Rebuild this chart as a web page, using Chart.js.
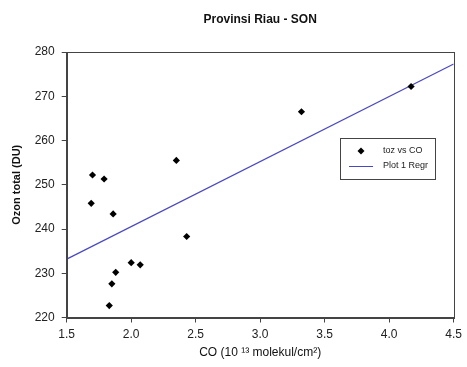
<!DOCTYPE html>
<html>
<head>
<meta charset="utf-8">
<script src="https://cdn.jsdelivr.net/npm/chart.js@4"></script>
<style>
html,body{margin:0;padding:0;background:#fff;}
#wrap{width:467px;height:367px;}
</style>
</head>
<body>
<div id="wrap"><canvas id="c" width="467" height="367"></canvas></div>
<script>
const chartTitle = "Provinsi Riau - SON";
const xTitle = "CO (10 \u00B9\u00B3 molekul/cm\u00B2)";
const yTitle = "Ozon total (DU)";
const scatterLabel = "toz vs CO";
const regrLabel = "Plot 1 Regr";
const coValues = [1.70, 1.79, 1.69, 1.86, 2.35, 2.43, 2.00, 2.07, 1.88, 1.85, 1.83, 3.32, 4.17];
const ozonValues = [252.2, 251.3, 245.8, 243.4, 255.5, 238.3, 232.4, 231.9, 230.2, 227.6, 222.7, 266.5, 272.2];
const regrX = [1.5, 4.5];
const regrY = [233.2, 277.3];
const xTicks = [1.5, 2.0, 2.5, 3.0, 3.5, 4.0, 4.5];
const yTicks = [220, 230, 240, 250, 260, 270, 280];

const FONT = "'Liberation Sans', Arial, sans-serif";
const AXIS = '#444';

const framePlugin = {
  id: 'frame',
  afterDraw(chart) {
    const {ctx, chartArea: a} = chart;
    ctx.save();
    ctx.strokeStyle = AXIS;
    ctx.lineWidth = 1;
    ctx.strokeRect(Math.round(a.left) + 0.5, Math.round(a.top) + 0.5, Math.round(a.right - a.left), Math.round(a.bottom - a.top));
    ctx.fillStyle = '#111';
    ctx.font = "bold 12px " + FONT;
    ctx.textAlign = 'center';
    ctx.textBaseline = 'middle';
    ctx.fillText(chartTitle, (a.left + a.right) / 2, 20);
    const lx = 340, ly = 138, lw = 95, lh = 41;
    ctx.fillStyle = '#fff';
    ctx.fillRect(lx, ly, lw, lh);
    ctx.strokeStyle = AXIS;
    ctx.strokeRect(lx + 0.5, ly + 0.5, lw, lh);
    ctx.font = "9px " + FONT;
    ctx.textAlign = 'left';
    const d0 = chart.data.datasets[0], d1 = chart.data.datasets[1];
    ctx.fillStyle = '#000';
    ctx.beginPath();
    const cx = lx + 21, cy = ly + 13;
    ctx.moveTo(cx, cy - 3.5); ctx.lineTo(cx + 3.5, cy); ctx.lineTo(cx, cy + 3.5); ctx.lineTo(cx - 3.5, cy); ctx.closePath();
    ctx.fill();
    ctx.fillStyle = '#222';
    ctx.fillText(d0.label, lx + 43, cy);
    const cy2 = ly + 28;
    ctx.strokeStyle = d1.borderColor;
    ctx.lineWidth = 1;
    ctx.beginPath();
    ctx.moveTo(lx + 9, cy2 + 0.5); ctx.lineTo(lx + 33, cy2 + 0.5); ctx.stroke();
    ctx.fillText(d1.label, lx + 43, cy2);
    ctx.restore();
  }
};

new Chart(document.getElementById('c'), {
  type: 'scatter',
  data: {
    datasets: [
      {
        label: scatterLabel,
        data: coValues.map((x, i) => ({x, y: ozonValues[i]})),
        pointStyle: 'rectRot',
        pointRadius: 3.6,
        backgroundColor: '#000',
        borderColor: '#000',
        borderWidth: 0,
        order: 1
      },
      {
        label: regrLabel,
        type: 'line',
        data: regrX.map((x, i) => ({x, y: regrY[i]})),
        borderColor: '#4a48c0',
        borderWidth: 1.2,
        pointRadius: 0,
        fill: false,
        order: 2
      }
    ]
  },
  options: {
    responsive: false,
    animation: false,
    devicePixelRatio: 1,
    layout: {padding: {left: 0, right: 9, top: 52, bottom: 0}},
    plugins: {
      legend: {display: false},
      tooltip: {enabled: false},
      title: {display: false}
    },
    scales: {
      x: {
        type: 'linear',
        min: 1.5, max: 4.5,
        afterBuildTicks(s) { s.ticks = xTicks.map(v => ({value: v})); },
        afterFit(s) { s.height = 49.5; },
        ticks: {
          color: '#222',
          font: {family: FONT, size: 12},
          padding: 5,
          callback: v => v.toFixed(1)
        },
        grid: {display: true, drawOnChartArea: false, drawTicks: true, tickLength: 5, tickColor: AXIS},
        border: {display: true, color: AXIS},
        title: {display: true, text: xTitle, color: '#111', font: {family: FONT, size: 12}, padding: {top: 0, bottom: 7}}
      },
      y: {
        type: 'linear',
        min: 220, max: 280,
        afterBuildTicks(s) { s.ticks = yTicks.map(v => ({value: v})); },
        afterFit(s) { s.width = 66.7; },
        ticks: {
          color: '#222',
          font: {family: FONT, size: 12},
          padding: 7
        },
        grid: {display: true, drawOnChartArea: false, drawTicks: true, tickLength: 5, tickColor: AXIS},
        border: {display: true, color: AXIS},
        title: {display: true, text: yTitle, color: '#111', font: {family: FONT, size: 11, weight: 'bold'}, padding: {top: 10, bottom: 2}}
      }
    }
  },
  plugins: [framePlugin]
});
</script>
</body>
</html>
